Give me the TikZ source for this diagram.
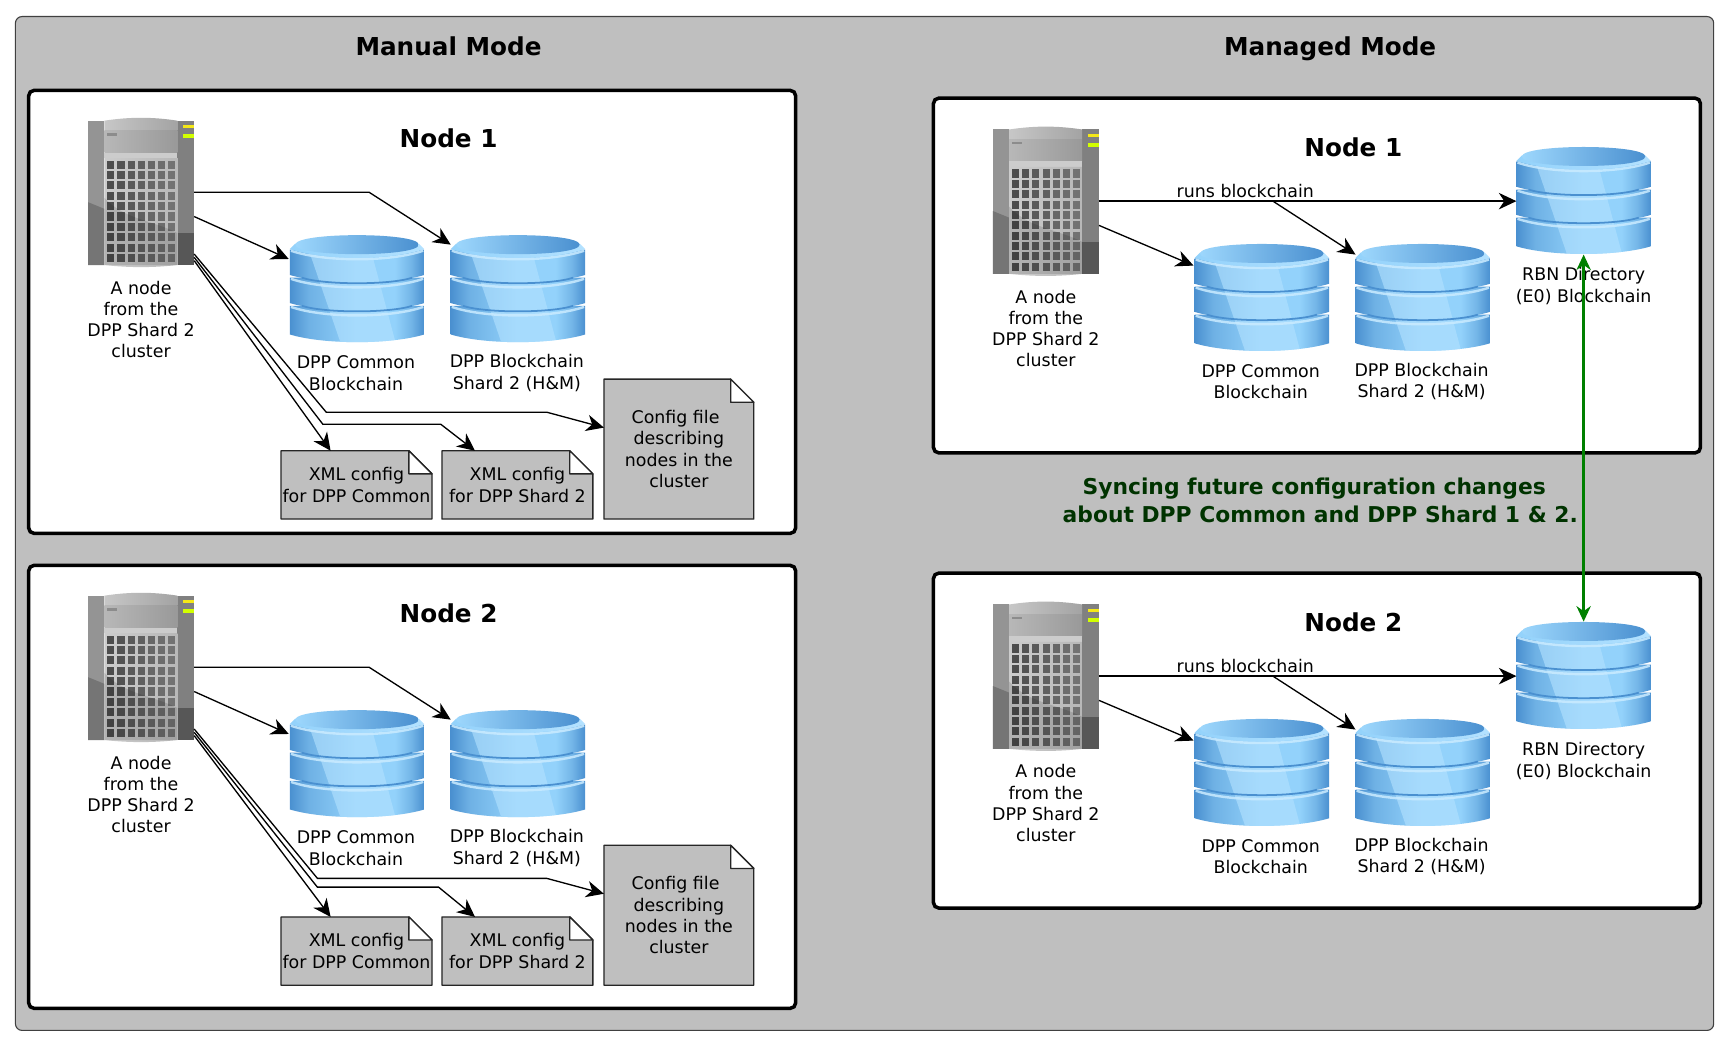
\documentclass[tikz,border=0pt]{standalone}
\usepackage{fontspec}
\setmainfont{DejaVu Sans}
\usetikzlibrary{arrows.meta}
\definecolor{sheet}{HTML}{BFBFBF}
\definecolor{forest}{HTML}{008000}
\definecolor{syncgreen}{HTML}{003300}
\definecolor{dbdark}{HTML}{4A90D0}
\definecolor{dblight}{HTML}{93D2FB}
\definecolor{dbmid}{HTML}{5FA3DB}
\definecolor{dbstreak}{HTML}{B4E2FF}
\pgfdeclarehorizontalshading{dbside}{100bp}{%
  color(0bp)=(dbdark); color(25bp)=(dbdark); color(32bp)=(dbmid!70!dblight);
  color(50bp)=(dblight); color(64bp)=(dblight); color(70bp)=(dbmid!60!dblight);
  color(75bp)=(dbdark); color(100bp)=(dbdark)}
\tikzset{>=stealth}
\tikzset{%
    flow/.style={-{Stealth[length=8pt,width=7.5pt,inset=2.5pt]}, line width=0.6pt, black},
    sync/.style={{Stealth[length=7pt,width=6.5pt]}-{Stealth[length=7pt,width=6.5pt]}, line width=1.1pt, forest},
    panel/.style={draw=black, fill=white, line width=1.6pt, rounded corners=2.5pt, inner sep=0pt, outer sep=0pt},
    hint/.style={font=\fontsize{7.9}{9.65}\selectfont, align=center, inner sep=0pt},
    heading/.style={font=\fontsize{11.2}{14}\selectfont\bfseries, inner sep=0pt, text height=8.2pt, text depth=0pt},
    dbstack/.pic={
        \node[inner sep=0pt, outer sep=0pt, minimum width=61pt, minimum height=49pt] (-box) at (0,0) {};
        \foreach \t/\h in {15.5/26,-10/23,-35.5/23} {
            \begin{scope}
                \clip (-61,\t) -- (-61,\t+\h) .. controls (-30,\t+\h+9.3) and (30,\t+\h+9.3) .. (61,\t+\h) -- (61,\t) -- cycle;
                \shade[shading=dbside] (-61,\t-2) rectangle (61,\t+\h+10);
                \fill[dbstreak, opacity=.6] (-44.5,-37) -- (12,-37) -- (35,49) -- (-15,49) -- cycle;
            \end{scope}
            \draw[dbstreak!70!white, opacity=.85, line width=1.1pt] (-60,\t+1) .. controls (-30,\t+11.3) and (30,\t+11.3) .. (60,\t+1);
        }
        \foreach \t in {-35.5,-10} {
            \draw[dbdark, line width=.8pt] (-50,\t+25.5) .. controls (-30,\t+32.2) and (30,\t+32.2) .. (50,\t+25.5);
        }
        \shade[left color=dblight, right color=dbstreak] (-61,-36) -- (-56,-41) -- (56,-41) -- (61,-36) .. controls (30,-25.5) and (-30,-25.5) .. (-61,-36) -- cycle;
        \shade[left color=dblight!70!dbstreak, right color=dbdark] (-56,-40) .. controls (-56,-51.5) and (56,-51.5) .. (56,-40) .. controls (56,-28.5) and (-56,-28.5) .. (-56,-40) -- cycle;
    },
    rackbox/.pic={
        \node[inner sep=0pt, outer sep=0pt, minimum width=96.4*.5pt, minimum height=66.5pt] (-box) at (0,0) {};
        \fill[black!42] (-48,-65) rectangle (-33.3,66);
        \fill[black!54] (-48,9) -- (-33.3,15) -- (-33.3,66) -- (-48,66) -- cycle;
        \fill[black!50] (33,-65) rectangle (48.4,66);
        \fill[black!66] (33,37) rectangle (48.4,66);
        \shade[left color=black!22, right color=black!36] (-33.3,-65) .. controls (-10,-68.5) and (10,-68.5) .. (33,-65) -- (33,-56) -- (-33.3,-56) -- cycle;
        \shade[left color=black!28, right color=black!40] (-33.3,-56) rectangle (33,-36);
        \fill[black!20] (-33.3,-36) rectangle (33,-31);
        \shade[left color=black!20, right color=black!28] (-33.3,-31) -- (33,-31) -- (33,66) .. controls (10,68.5) and (-10,68.5) .. (-33.3,66) -- cycle;
        \fill[black!45] (-30.6,-53.5) rectangle (-21.5,-51.5);
        \foreach \col in {0,...,6} {
            \foreach \row in {0,...,9} {
                \fill[black, opacity=.62-.04*\col] (-30.6+\col*9.2,-28.7+\row*9.4) rectangle +(6.4,7.3);
            }
        }
        \fill[black, opacity=.12] (-33.3,5) .. controls (-15,25) and (10,25) .. (33,37) -- (33,66) -- (-33.3,66) -- cycle;
        \fill[yellow!90!gray] (38.4,-60.8) rectangle (48,-58);
        \fill[lime!70!yellow] (38.4,-52.8) rectangle (48,-49.5);
    },
    docnote/.style={draw=black!85, fill=sheet, line width=.6pt, line join=round}
}
% doc sheet with folded corner: name, centre x, centre y, width, height, text
\newcommand{\docsheet}[6]{%
  \begin{scope}[shift={(#2,#3)}]
    \draw[docnote] (-#4/2,-#5/2) -- (#4/2-21,-#5/2) -- (#4/2,-#5/2+21) -- (#4/2,#5/2) -- (-#4/2,#5/2) -- cycle;
    \draw[docnote,fill=white] (#4/2-21,-#5/2) -- (#4/2-21,-#5/2+21) -- (#4/2,-#5/2+21) -- cycle;
    \node[hint,outer sep=0pt,minimum width=#4*.5pt,minimum height=#5*.5pt] (#1) at (0,0) {#6};
  \end{scope}
}
% left hand panel: prefix, panel shift, title, doc shift, then the bends of the lower lines
\newcommand{\manualpanel}[8]{%
  \begin{scope}[shift={(0,#2)}]
    \node[panel,minimum width=348pt,minimum height=201pt] (#1panel) at (374,283) {};
    \node[heading] (#1title) at (407,126) {#3};
    \pic (#1rack) at (128,174.5) {rackbox};
    \node[hint] (#1racktext) at (128,290) {A node\\from the\\DPP Shard 2\\cluster};
    \pic (#1common) at (324,262) {dbstack};
    \pic (#1shard) at (470,262) {dbstack};
    \node[hint] (#1commontext) at (323,338.5) {DPP Common\\Blockchain};
    \node[hint] (#1shardtext) at (469,338.5) {DPP Blockchain\\Shard 2 (H\&M)};
    \begin{scope}[shift={(0,#4)}]
      \docsheet{#1xmlc}{323.5}{440}{137}{62}{XML config\\for DPP Common}
      \docsheet{#1xmls}{469.5}{440}{137}{62}{XML config\\for DPP Shard 2}
      \docsheet{#1conf}{616}{407.5}{136}{127}{Config file\hspace*{3pt}\\describing\hspace*{3pt}\\nodes in the\\cluster}
    \end{scope}
    \draw[flow] (#1rack-box.east) -- (335,174.5) -- ([xshift=-30.5pt,yshift=-4.5pt]#1shard-box.north);
    \draw[flow] ([yshift=-11pt]#1rack-box.east) -- ([xshift=-.5pt,yshift=13.5pt]#1common-box.west);
    \draw[flow] ([yshift=-31pt]#1rack-box.east) -- ([xshift=-11.75pt]#1xmlc.north);
    \draw[flow] ([yshift=-29.5pt]#1rack-box.east) -- #6 -- #7 -- ([xshift=-19.25pt]#1xmls.north);
    \draw[flow] ([yshift=-28pt]#1rack-box.east) -- #5 -- #8 -- ([yshift=-22pt]#1conf.north west);
  \end{scope}
}
% right hand panel: prefix, panel shift, title, panel height
\newcommand{\managedpanel}[4]{%
  \begin{scope}[shift={(0,#2)}]
    \node[panel,minimum width=348pt,minimum height=#4*.5pt,anchor=north west] (#1panel) at (847,89) {};
    \node[heading] (#1title) at (1228,134) {#3};
    \pic (#1rack) at (949,182.5) {rackbox};
    \node[hint] (#1racktext) at (949,298) {A node\\from the\\DPP Shard 2\\cluster};
    \pic (#1common) at (1145,270) {dbstack};
    \pic (#1shard) at (1291,270) {dbstack};
    \pic (#1rbn) at (1437,182) {dbstack};
    \node[hint] (#1commontext) at (1144,346.5) {DPP Common\\Blockchain};
    \node[hint] (#1shardtext) at (1290,346.5) {DPP Blockchain\\Shard 2 (H\&M)};
    \node[hint] (#1rbntext) at (1437,259.5) {RBN Directory\\(E0) Blockchain};
    \node[hint] (#1runs) at (1130,173) {runs blockchain};
    \coordinate (#1fork) at (1155,182.5);
    \draw[flow] (#1rack-box.east) -- (#1rack-box.east -| #1rbn-box.west);
    \draw[flow] (#1fork) -- ([xshift=-30.5pt,yshift=-5pt]#1shard-box.north);
    \draw[flow] ([yshift=-11pt]#1rack-box.east) -- ([xshift=-.5pt,yshift=14.5pt]#1common-box.west);
  \end{scope}
}
\begin{document}
\begin{tikzpicture}[x=.5pt,y=-.5pt]
  \useasboundingbox (0,0) rectangle (1568,948.2);
  \draw[fill=sheet,draw=black!75,line width=.5pt,rounded corners=3pt] (14,15) rectangle (1555,935);
  \node[heading] (manualtitle) at (407,42) {Manual Mode};
  \node[heading] (managedtitle) at (1207,42) {Managed Mode};
  \manualpanel{ma}{0}{Node 1}{0}{(296,374)}{(293,385)}{(400,385)}{(496,374)}
  \manualpanel{mb}{431}{Node 2}{-8}{(288,366)}{(288,374)}{(398,374)}{(496,366)}
  \managedpanel{ra}{0}{Node 1}{322}
  \managedpanel{rb}{431}{Node 2}{304}
  \node[font=\fontsize{9.9}{12.6}\selectfont\bfseries,text=syncgreen,align=center,inner sep=0pt] (synctext) at (1198,454) {Syncing future configuration changes\hspace*{5.5pt}\\about DPP Common and DPP Shard 1 \& 2.};
  \draw[sync] (rarbn-box.south) -- (rbrbn-box.north);
\end{tikzpicture}
\end{document}
